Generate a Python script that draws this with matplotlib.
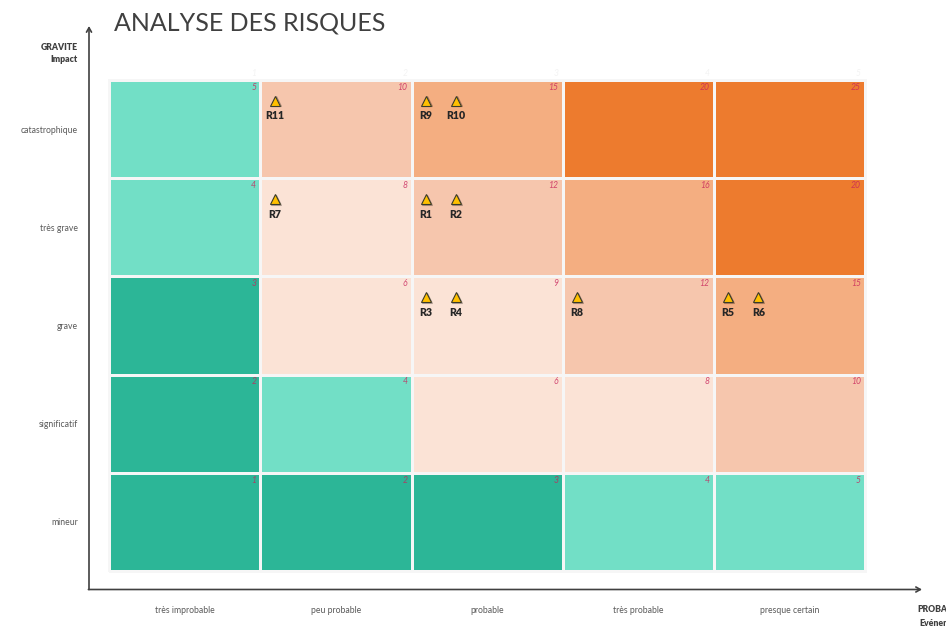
import matplotlib
matplotlib.use("Agg")
import matplotlib.pyplot as plt
import matplotlib.patheffects as pe
from matplotlib.colors import ListedColormap, BoundaryNorm
import numpy as np

plt.rcParams["font.family"] = ["Lato", "DejaVu Sans"]

# donnees
probabilites = ["très improbable", "peu probable", "probable", "très probable", "presque certain"]
gravites = ["mineur", "significatif", "grave", "très grave", "catastrophique"]

# de bas en haut
scores = [
    [1, 2, 3, 4, 5],
    [2, 4, 6, 8, 10],
    [3, 6, 9, 12, 15],
    [4, 8, 12, 16, 20],
    [5, 10, 15, 20, 25],
]
niveaux = [
    [0, 0, 0, 1, 1],
    [0, 1, 2, 2, 3],
    [0, 2, 2, 3, 4],
    [1, 2, 3, 4, 5],
    [1, 3, 4, 5, 5],
]
couleurs = ["#2CB697", "#72DFC6", "#FBE3D6", "#F6C6AD", "#F4AE81", "#ED7B2E"]

# chiffres tres pales au dessus de la grille
numeros_haut = [1, 2, 3, 4, 5]

risques = ["R1", "R2", "R3", "R4", "R5", "R6", "R7", "R8", "R9", "R10", "R11"]
risque_proba = [2, 2, 2, 2, 4, 4, 1, 3, 2, 2, 1]
risque_grav = [3, 3, 2, 2, 2, 2, 3, 2, 4, 4, 4]
risque_rang = [0, 1, 0, 1, 0, 1, 0, 0, 0, 1, 0]

W, H = 946, 629
fig = plt.figure(figsize=(W / 100, H / 100), dpi=100, facecolor="white")
ax = fig.add_axes([109.3 / W, 1 - 571.0 / H, 755.6 / W, 491.0 / H])

cmap = ListedColormap(couleurs)
norm = BoundaryNorm(np.arange(-0.5, 6.5), cmap.N)
ax.pcolormesh(np.arange(6), np.arange(6), niveaux, cmap=cmap, norm=norm,
              edgecolors="#F6F6F6", linewidth=1.9, clip_on=False)
ax.set_xlim(0, 5)
ax.set_ylim(0, 5)
for s in ax.spines.values():
    s.set_visible(False)

ax.set_xticks(np.arange(5) + 0.5, probabilites)
ax.set_yticks(np.arange(5) + 0.5, gravites)
ax.tick_params(length=0, labelsize=6.2, labelcolor="#595959")
ax.tick_params(axis="x", pad=25)
ax.tick_params(axis="y", pad=22.5)

# scores en haut a droite
for g, ligne in enumerate(scores):
    for p, val in enumerate(ligne):
        ax.annotate(str(val), xy=(p + 1, g + 1), xytext=(-3, -2),
                    textcoords="offset points", ha="right", va="top",
                    fontsize=6.2, style="italic", color="#C8235A", alpha=0.8)

for p, val in enumerate(numeros_haut):
    ax.annotate(str(val), xy=(p + 1, 5), xytext=(-3, 8),
                textcoords="offset points", ha="right", va="top",
                fontsize=6.2, style="italic", color="#F3F3F3")

# risques
for nom, p, g, r in zip(risques, risque_proba, risque_grav, risque_rang):
    x = p + 0.095 + 0.2 * r
    ax.plot(x, g + 0.79, marker="^", ms=7.2, mfc="#FFC000", mec="#3A3A2A", mew=0.8, snap=False,
            path_effects=[pe.SimpleLineShadow(offset=(0.6, -0.6), alpha=0.3), pe.Normal()])
    ax.text(x, g + 0.635, nom, ha="center", va="center", fontsize=7.6,
            fontweight="heavy", color="#262626")

# axes fleches
fleche = dict(arrowstyle="->,head_width=0.18,head_length=0.32", color="#404040", lw=1.2,
              shrinkA=0, shrinkB=0)
ax.annotate("", xy=(89 / W, 1 - 26 / H), xytext=(89 / W, 1 - 589.5 / H),
            xycoords=fig.transFigure, textcoords=fig.transFigure, arrowprops=fleche)
ax.annotate("", xy=(922 / W, 1 - 589.5 / H), xytext=(88.4 / W, 1 - 589.5 / H),
            xycoords=fig.transFigure, textcoords=fig.transFigure, arrowprops=fleche)

# textes
fig.text(114 / W, 1 - 23.5 / H, "ANALYSE DES RISQUES", fontsize=18, color="#404040",
         ha="left", va="center")
fig.text(78 / W, 1 - 47 / H, "GRAVITE", fontsize=6.2, fontweight="heavy", color="#404040",
         ha="right", va="center")
fig.text(78 / W, 1 - 60 / H, "Impact", fontsize=6.2, fontweight="heavy", color="#404040",
         ha="right", va="center")
fig.text(917 / W, 1 - 610 / H, "PROBABILITE", fontsize=6.2, fontweight="heavy", color="#404040",
         ha="left", va="center")
fig.text(919 / W, 1 - 623 / H, "Evénement", fontsize=6.2, fontweight="heavy", color="#404040",
         ha="left", va="center")

fig.savefig("out.png", dpi=100)
